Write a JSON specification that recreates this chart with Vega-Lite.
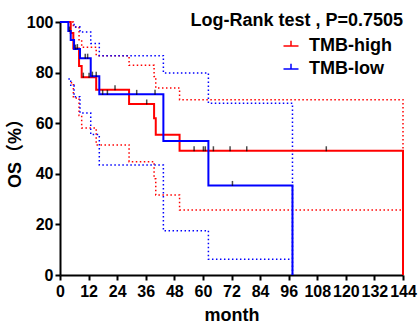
{
  "$schema": "https://vega.github.io/schema/vega-lite/v6.json",
  "width": 343,
  "height": 253,
  "autosize": {"type": "none"},
  "padding": {"left": 60, "top": 22, "right": 17, "bottom": 52},
  "background": "white",
  "config": {"view": {"stroke": null}, "font": "Liberation Sans"},
  "title": {
    "text": "Log-Rank test , P=0.7505",
    "anchor": "end",
    "frame": "group",
    "fontSize": 18,
    "fontWeight": "bold",
    "font": "Liberation Sans",
    "color": "black",
    "baseline": "middle",
    "offset": -25
  },
  "datasets": {
    "curves": [
      {"group": "TMB-high", "kind": "est", "t": 0, "v": 100},
      {"group": "TMB-high", "kind": "est", "t": 4.5, "v": 95.7},
      {"group": "TMB-high", "kind": "est", "t": 5.6, "v": 89.5},
      {"group": "TMB-high", "kind": "est", "t": 8.0, "v": 82.6},
      {"group": "TMB-high", "kind": "est", "t": 9.1, "v": 78.2},
      {"group": "TMB-high", "kind": "est", "t": 15.2, "v": 73.2},
      {"group": "TMB-high", "kind": "est", "t": 29.0, "v": 67.6},
      {"group": "TMB-high", "kind": "est", "t": 39.5, "v": 62.0},
      {"group": "TMB-high", "kind": "est", "t": 40.2, "v": 55.4},
      {"group": "TMB-high", "kind": "est", "t": 50.2, "v": 49.1},
      {"group": "TMB-high", "kind": "est", "t": 144, "v": 0},
      {"group": "TMB-high", "kind": "upper", "t": 0, "v": 100},
      {"group": "TMB-high", "kind": "upper", "t": 4.5, "v": 100},
      {"group": "TMB-high", "kind": "upper", "t": 5.6, "v": 98},
      {"group": "TMB-high", "kind": "upper", "t": 8.0, "v": 93},
      {"group": "TMB-high", "kind": "upper", "t": 9.1, "v": 90},
      {"group": "TMB-high", "kind": "upper", "t": 15.2, "v": 86.7},
      {"group": "TMB-high", "kind": "upper", "t": 29.0, "v": 82.9},
      {"group": "TMB-high", "kind": "upper", "t": 39.5, "v": 78.5},
      {"group": "TMB-high", "kind": "upper", "t": 40.2, "v": 73.9},
      {"group": "TMB-high", "kind": "upper", "t": 50.2, "v": 69.3},
      {"group": "TMB-high", "kind": "upper", "t": 144, "v": 0},
      {"group": "TMB-high", "kind": "lower", "t": 4.5, "v": 76},
      {"group": "TMB-high", "kind": "lower", "t": 5.6, "v": 70},
      {"group": "TMB-high", "kind": "lower", "t": 8.0, "v": 63},
      {"group": "TMB-high", "kind": "lower", "t": 9.1, "v": 58.1},
      {"group": "TMB-high", "kind": "lower", "t": 15.2, "v": 51.4},
      {"group": "TMB-high", "kind": "lower", "t": 29.0, "v": 44.8},
      {"group": "TMB-high", "kind": "lower", "t": 39.5, "v": 38},
      {"group": "TMB-high", "kind": "lower", "t": 40.2, "v": 31.6},
      {"group": "TMB-high", "kind": "lower", "t": 50.2, "v": 25.7},
      {"group": "TMB-high", "kind": "lower", "t": 144, "v": 25.7},
      {"group": "TMB-low", "kind": "est", "t": 0, "v": 100},
      {"group": "TMB-low", "kind": "est", "t": 3.5, "v": 96.4},
      {"group": "TMB-low", "kind": "est", "t": 4.5, "v": 92.9},
      {"group": "TMB-low", "kind": "est", "t": 5.9, "v": 89.3},
      {"group": "TMB-low", "kind": "est", "t": 8.4, "v": 85.7},
      {"group": "TMB-low", "kind": "est", "t": 12.9, "v": 78.6},
      {"group": "TMB-low", "kind": "est", "t": 16.5, "v": 71.4},
      {"group": "TMB-low", "kind": "est", "t": 43.4, "v": 53.0},
      {"group": "TMB-low", "kind": "est", "t": 62.3, "v": 35.4},
      {"group": "TMB-low", "kind": "est", "t": 97.6, "v": 0},
      {"group": "TMB-low", "kind": "upper", "t": 0, "v": 100},
      {"group": "TMB-low", "kind": "upper", "t": 4.5, "v": 99},
      {"group": "TMB-low", "kind": "upper", "t": 5.9, "v": 98},
      {"group": "TMB-low", "kind": "upper", "t": 8.4, "v": 96},
      {"group": "TMB-low", "kind": "upper", "t": 12.9, "v": 91.5},
      {"group": "TMB-low", "kind": "upper", "t": 16.5, "v": 86.7},
      {"group": "TMB-low", "kind": "upper", "t": 43.4, "v": 79.8},
      {"group": "TMB-low", "kind": "upper", "t": 62.3, "v": 67.9},
      {"group": "TMB-low", "kind": "upper", "t": 97.6, "v": 0},
      {"group": "TMB-low", "kind": "lower", "t": 3.5, "v": 77.5},
      {"group": "TMB-low", "kind": "lower", "t": 4.5, "v": 75},
      {"group": "TMB-low", "kind": "lower", "t": 5.9, "v": 70.5},
      {"group": "TMB-low", "kind": "lower", "t": 8.4, "v": 64},
      {"group": "TMB-low", "kind": "lower", "t": 12.9, "v": 55.5},
      {"group": "TMB-low", "kind": "lower", "t": 16.5, "v": 43.5},
      {"group": "TMB-low", "kind": "lower", "t": 43.4, "v": 17.5},
      {"group": "TMB-low", "kind": "lower", "t": 62.3, "v": 6.2},
      {"group": "TMB-low", "kind": "lower", "t": 97, "v": 6.2}
    ],
    "censor": [
      {"group": "TMB-high", "t": 7.3, "v": 89.5},
      {"group": "TMB-high", "t": 9.8, "v": 78.2},
      {"group": "TMB-high", "t": 12.2, "v": 78.2},
      {"group": "TMB-high", "t": 23.1, "v": 73.2},
      {"group": "TMB-high", "t": 36.4, "v": 67.6},
      {"group": "TMB-high", "t": 56.3, "v": 49.1},
      {"group": "TMB-high", "t": 60.2, "v": 49.1},
      {"group": "TMB-high", "t": 61.0, "v": 49.1},
      {"group": "TMB-high", "t": 64.4, "v": 49.1},
      {"group": "TMB-high", "t": 71.4, "v": 49.1},
      {"group": "TMB-high", "t": 78.4, "v": 49.1},
      {"group": "TMB-high", "t": 111.8, "v": 49.1},
      {"group": "TMB-low", "t": 4.0, "v": 96.4},
      {"group": "TMB-low", "t": 6.5, "v": 89.3},
      {"group": "TMB-low", "t": 10.6, "v": 85.7},
      {"group": "TMB-low", "t": 11.6, "v": 85.7},
      {"group": "TMB-low", "t": 13.6, "v": 78.6},
      {"group": "TMB-low", "t": 15.2, "v": 78.6},
      {"group": "TMB-low", "t": 17.9, "v": 71.4},
      {"group": "TMB-low", "t": 19.9, "v": 71.4},
      {"group": "TMB-low", "t": 32.2, "v": 71.4},
      {"group": "TMB-low", "t": 39.9, "v": 71.4},
      {"group": "TMB-low", "t": 72.4, "v": 35.4}
    ]
  },
  "encoding": {
    "x": {
      "field": "t",
      "type": "quantitative",
      "scale": {"domain": [0, 144], "nice": false, "zero": false},
      "axis": {
        "values": [0, 12, 24, 36, 48, 60, 72, 84, 96, 108, 120, 132, 144],
        "title": "month",
        "grid": false,
        "domainColor": "black",
        "domainWidth": 2,
        "tickColor": "black",
        "tickWidth": 2,
        "tickSize": 5,
        "labelFontSize": 16,
        "labelFontWeight": "bold",
        "labelColor": "black",
        "labelFont": "Liberation Sans",
        "labelPadding": 3,
        "labelFlush": false,
        "labelOverlap": false,
        "titleFontSize": 18,
        "titleFontWeight": "bold",
        "titleFont": "Liberation Sans",
        "titleColor": "black",
        "titlePadding": 7
      }
    },
    "y": {
      "field": "v",
      "type": "quantitative",
      "scale": {"domain": [0, 100], "nice": false},
      "axis": {
        "values": [0, 20, 40, 60, 80, 100],
        "title": "OS（%）",
        "grid": false,
        "domainColor": "black",
        "domainWidth": 2,
        "tickColor": "black",
        "tickWidth": 2,
        "tickSize": 5,
        "labelFontSize": 16,
        "labelFontWeight": "bold",
        "labelColor": "black",
        "labelFont": "Liberation Sans",
        "labelPadding": 2,
        "titleFontSize": 18,
        "titleFontWeight": "bold",
        "titleFont": "Liberation Sans, Noto Sans CJK SC",
        "titleColor": "black",
        "titlePadding": 2
      }
    }
  },
  "layer": [
    {
      "data": {"name": "curves"},
      "transform": [{"filter": "datum.kind !== 'est' && datum.group === 'TMB-high'"}],
      "mark": {"type": "line", "interpolate": "step-after", "strokeDash": [1.5, 2.5], "strokeWidth": 1.5, "color": "#ff0000"},
      "encoding": {
        "detail": {"field": "kind", "type": "nominal"}
      }
    },
    {
      "data": {"name": "curves"},
      "transform": [{"filter": "datum.kind !== 'est' && datum.group === 'TMB-low'"}],
      "mark": {"type": "line", "interpolate": "step-after", "strokeDash": [1.5, 2.5], "strokeWidth": 1.5, "color": "#0000ff"},
      "encoding": {
        "detail": {"field": "kind", "type": "nominal"}
      }
    },
    {
      "data": {"name": "curves"},
      "transform": [{"filter": "datum.kind === 'est'"}],
      "mark": {"type": "line", "interpolate": "step-after", "strokeWidth": 2},
      "encoding": {
        "color": {
          "field": "group",
          "type": "nominal",
          "scale": {"domain": ["TMB-high", "TMB-low"], "range": ["#ff0000", "#0000ff"]},
          "legend": {
            "orient": "none",
            "legendX": 222,
            "legendY": 15,
            "title": null,
            "labelFontSize": 18,
            "labelFont": "Liberation Sans",
            "labelFontWeight": "bold",
            "labelColor": "black",
            "symbolType": "M-1,0L1,0M0,0L0,-0.7",
            "symbolSize": 225,
            "symbolStrokeWidth": 1.5,
            "rowPadding": 5,
            "labelOffset": 9
          }
        }
      }
    },
    {
      "data": {"name": "censor"},
      "mark": {"type": "tick", "orient": "vertical", "color": "black", "size": 5, "thickness": 1.5, "yOffset": -2}
    }
  ]
}
